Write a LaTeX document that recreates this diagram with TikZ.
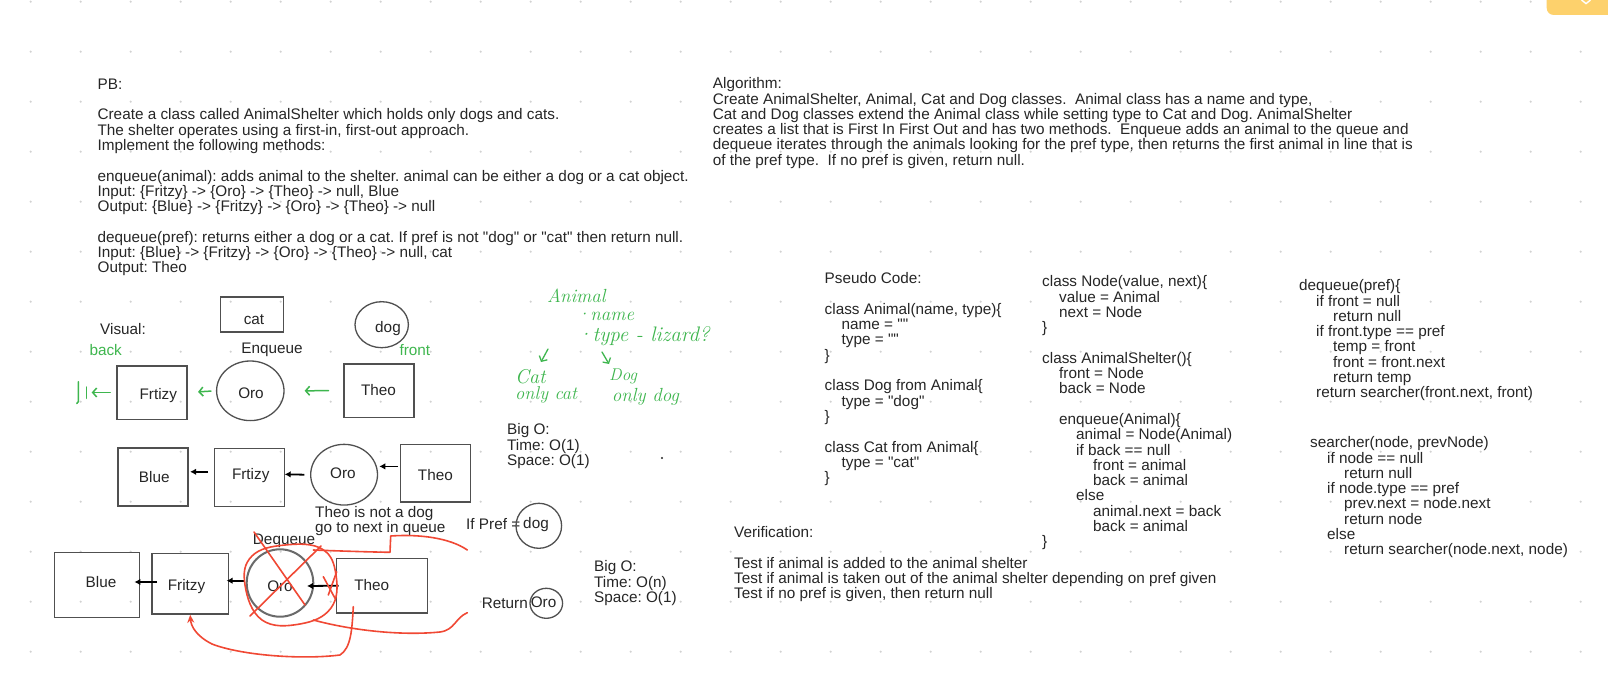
\documentclass[tikz,border=0pt]{standalone}
\usepackage{fontspec}
\newfontfamily\af{Liberation Sans}[Ligatures=TeXOff]
\usetikzlibrary{shapes.geometric,arrows.meta}
\definecolor{ink}{HTML}{262626}
\definecolor{edge}{HTML}{505050}
\definecolor{grn}{RGB}{62,182,78}
\definecolor{rd}{RGB}{240,72,52}
\definecolor{griddot}{HTML}{D2D2D2}
\definecolor{tabcol}{HTML}{FDD16C}
\newcommand\myind[1]{\hspace*{#1pt}}
\newcommand\txtfont{\af\fontsize{15.3}{15.3}\selectfont}
\tikzset{
  blk/.style={anchor=north west, inner sep=0pt, align=left, text=ink, font=\txtfont},
  lbl/.style={inner sep=0pt, text=ink, font=\txtfont},
  glbl/.style={inner sep=0pt, text=grn, font=\txtfont},
  box/.style={draw=edge, line width=1.6pt, rectangle, inner sep=0pt},
  oval/.style={draw=edge, line width=1.3pt, ellipse, inner sep=0pt},
  garrow/.style={draw=grn, line width=1.5pt, line cap=round, -{Straight Barb[length=4pt,width=9pt]}},
  karrow/.style={draw=black, line width=1.8pt, -{Latex[length=6pt,width=6.5pt]}},
  redpen/.style={draw=rd, line width=1.6pt, line cap=round, line join=round},
  hand/.style={text=grn, inner sep=0pt, font=\itshape\fontsize{19}{20}\selectfont},
}
\begin{document}
\frenchspacing
\begin{tikzpicture}[x=1pt,y=-1pt]
\useasboundingbox (0,0) rectangle (1608,700);
\fill[white] (0,0) rectangle (1608,700);
\foreach \i in {0,...,31} \foreach \j in {0,...,13} \fill[griddot] (30.7+50*\i,1.7+50*\j) circle (1.2pt);
% top-right tab
\fill[tabcol, rounded corners=7pt] (1546.7,-20) rectangle (1640,15);
\draw[white, line width=1.4pt] (1581.5,0) -- (1586,3.6) -- (1590.5,0);

% ---------- text blocks ----------
\node[blk] (pb) at (97.4,78.5) {PB:\\[15.3pt]
Create a class called AnimalShelter which holds only dogs and cats.\\
The shelter operates using a first-in, first-out approach.\\
Implement the following methods:\\[15.3pt]
enqueue(animal): adds animal to the shelter. animal can be either a dog or a cat object.\\
Input: \{Fritzy\} -> \{Oro\} -> \{Theo\} -> null, Blue\\
Output: \{Blue\} -> \{Fritzy\} -> \{Oro\} -> \{Theo\} -> null\\[15.3pt]
dequeue(pref): returns either a dog or a cat. If pref is not "dog" or "cat" then return null.\\
Input: \{Blue\} -> \{Fritzy\} -> \{Oro\} -> \{Theo\} -> null, cat\\
Output: Theo};

\node[blk] (algo) at (712.7,77.5) {Algorithm:\\
Create AnimalShelter, Animal, Cat and Dog classes.\ \ Animal class has a name and type,\\
Cat and Dog classes extend the Animal class while setting type to Cat and Dog. AnimalShelter\\
creates a list that is First In First Out and has two methods.\ \ Enqueue adds an animal to the queue and\\
dequeue iterates through the animals looking for the pref type, then returns the first animal in line that is\\
of the pref type.\ \ If no pref is given, return null.};

\node[blk] (pseudo) at (824.5,272.5) {Pseudo Code:\\[15.3pt]
class Animal(name, type)\{\\
\myind{17}name = ""\\
\myind{17}type = ""\\
\}\\[15.3pt]
class Dog from Animal\{\\
\myind{17}type = "dog"\\
\}\\[15.3pt]
class Cat from Animal\{\\
\myind{17}type = "cat"\\
\}};

\node[blk] (nodecls) at (1042,275.5) {class Node(value, next)\{\\
\myind{17}value = Animal\\
\myind{17}next = Node\\
\}\\[15.3pt]
class AnimalShelter()\{\\
\myind{17}front = Node\\
\myind{17}back = Node\\[15.3pt]
\myind{17}enqueue(Animal)\{\\
\myind{34}animal = Node(Animal)\\
\myind{34}if back == null\\
\myind{51}front = animal\\
\myind{51}back = animal\\
\myind{34}else\\
\myind{51}animal.next = back\\
\myind{51}back = animal\\
\}};

\node[blk] (deq) at (1299,279.5) {dequeue(pref)\{\\
\myind{17}if front = null\\
\myind{34}return null\\
\myind{17}if front.type == pref\\
\myind{34}temp = front\\
\myind{34}front = front.next\\
\myind{34}return temp\\
\myind{17}return searcher(front.next, front)};

\node[blk] (search) at (1310,436.5) {searcher(node, prevNode)\\
\myind{17}if node == null\\
\myind{34}return null\\
\myind{17}if node.type == pref\\
\myind{34}prev.next = node.next\\
\myind{34}return node\\
\myind{17}else\\
\myind{34}return searcher(node.next, node)};

\node[blk] (verif) at (734,526.5) {Verification:\\[15.3pt]
Test if animal is added to the animal shelter\\
Test if animal is taken out of the animal shelter depending on pref given\\
Test if no pref is given, then return null};

\node[blk] (bigo1) at (507,423.5) {Big O:\\Time: O(1)\\Space: O(1)};
\node[blk] (bigo2) at (594,560.5) {Big O:\\Time: O(n)\\Space: O(1)};
\node[blk] (note) at (315,506) {Theo is not a dog\\go to next in queue};
\fill[ink] (662,458) circle (1.1pt);

% ---------- labels ----------
\node[lbl, anchor=base west] (visual) at (100,334.4) {Visual:};
\node[glbl, anchor=base west] (backlbl) at (89.3,355.4) {back};
\node[glbl, anchor=base west] (frontlbl) at (399.3,355.4) {front};
\node[lbl, anchor=base] (enq) at (272,353.1) {Enqueue};
\node[lbl, anchor=base] (deqlbl) at (284,544) {Dequeue};
\node[lbl, anchor=base west] (ifpref) at (466,529.7) {If Pref =};
\node[lbl, anchor=base west] (retlbl) at (481.7,608) {Return};

% ---------- row 1 ----------
\node[box, minimum width=63pt, minimum height=35pt] (cat) at (252,314.8) {};
\node[lbl] (catt) at (254,319.5) {cat};
\node[oval, minimum width=53.4pt, minimum height=46pt] (dog) at (381.7,324.7) {};
\node[lbl] (dogt) at (388,328.5) {dog};
\node[box, minimum width=70pt, minimum height=53.6pt] (frtizy1) at (151.7,392.5) {};
\node[lbl] (frtizy1t) at (158.3,395.7) {Frtizy};
\node[oval, minimum width=67.4pt, minimum height=59.6pt] (oro1) at (250.3,390.8) {};
\node[lbl] (oro1t) at (251,393) {Oro};
\node[box, minimum width=70pt, minimum height=53.3pt] (theo1) at (379,390.7) {};
\node[lbl] (theo1t) at (378.5,390.5) {Theo};
\coordinate (null1) at (91.7,392.5);
\draw[garrow, shorten <=14.7pt, shorten >=20pt] (theo1.west) -- (oro1.east);
\draw[garrow, shorten <=5pt, shorten >=10.6pt] (oro1.west) -- (frtizy1.east);
\draw[garrow, shorten <=5.7pt] (frtizy1.west) -- (null1);
\draw[grn, line width=1.5pt, line cap=round] (78.3,381.7) -- (78.3,401.7) -- (76.8,403.5);
\draw[grn, line width=1.5pt, line cap=round] (86.7,387) -- (86.7,398.3);

% ---------- row 2 ----------
\node[box, minimum width=70pt, minimum height=58pt] (blue2) at (153,477) {};
\node[lbl] (blue2t) at (154.3,477) {Blue};
\node[box, minimum width=70pt, minimum height=58pt] (frtizy2) at (249.5,477.5) {};
\node[lbl] (frtizy2t) at (250.7,476) {Frtizy};
\node[oval, minimum width=66.8pt, minimum height=60.7pt] (oro2) at (344.1,474.7) {};
\node[lbl] (oro2t) at (342.9,473.6) {Oro};
\node[box, minimum width=70pt, minimum height=57.7pt] (theo2) at (435.5,473.2) {};
\node[lbl] (theo2t) at (435.4,474.6) {Theo};
\draw[karrow] ([xshift=-1.7pt,yshift=6.8pt]theo2.west) -- ([xshift=1.1pt,yshift=8.3pt]oro2.east);
\draw[karrow] ([xshift=-5.7pt]oro2.west) -- ([xshift=-0.6pt,yshift=3.2pt]frtizy2.east);
\draw[karrow] ([xshift=-5.7pt,yshift=5.7pt]frtizy2.west) -- ([xshift=1.3pt,yshift=5.2pt]blue2.east);

% ---------- dog / return ----------
\node[oval, minimum width=45.6pt, minimum height=45pt] (dog2) at (538.8,525.8) {};
\node[lbl] (dog2t) at (536,525) {dog};
\node[oval, minimum width=32.6pt, minimum height=30pt] (oror) at (546.3,603.3) {};
\node[lbl] (orort) at (543.5,602.7) {Oro};

% ---------- row 3 ----------
\node[box, minimum width=85pt, minimum height=64.7pt] (blue3) at (96.9,585) {};
\node[lbl] (blue3t) at (101,582) {Blue};
\node[box, minimum width=76.7pt, minimum height=60.5pt] (fritzy3) at (190.2,583.8) {};
\node[lbl] (fritzy3t) at (186.5,587) {Fritzy};
\node[oval, draw=edge!85, line width=2pt, minimum width=66.6pt, minimum height=67.4pt] (oro3) at (280,583) {};
\node[lbl] (oro3t) at (280,586.5) {Oro};
\node[box, minimum width=91pt, minimum height=54.7pt] (theo3) at (382,585.7) {};
\node[lbl] (theo3t) at (371.7,585) {Theo};
\draw[karrow] ([xshift=2.8pt]theo3.west) -- ([xshift=-7.3pt,yshift=-3pt]oro3.east);
\draw[karrow] ([xshift=-0.3pt,yshift=2.3pt]oro3.west) -- ([xshift=-2.8pt,yshift=3.1pt]fritzy3.east);
\draw[karrow] ([xshift=6.1pt,yshift=1.8pt]fritzy3.west) -- ([xshift=-5.8pt,yshift=3pt]blue3.east);

% ---------- red pen ----------
\draw[redpen] (254,532) -- (305,605);
\draw[redpen] (250,616) -- (321,546);
\draw[redpen] plot[smooth cycle, tension=0.7] coordinates {(245,585) (252,556) (285,545) (322,549) (336,575) (331,608) (300,624) (262,620)};
\draw[redpen] (313.3,550) .. controls (340,551) and (370,552) .. (390,552.3) -- (390.7,536) .. controls (420,534) and (450,538) .. (467.3,550);
\draw[redpen] (313.3,620) .. controls (350,630) and (400,636) .. (440,632) .. controls (455,630) and (455,618) .. (467.3,612.7);
\draw[redpen] (323.3,576.7) -- (335,598.3);
\draw[redpen] (336.7,571.7) -- (328.3,595);
\draw[redpen, -{Stealth[length=8pt,width=7pt]}] (353.3,606.7) .. controls (352,630) and (351,648) .. (340,655) .. controls (300,660) and (240,655) .. (212,644) .. controls (196,636) and (191,626) .. (fritzy3.south);

% ---------- green handwriting ----------
\node[hand, anchor=west] (hanimal) at (547,296) {Animal};
\node[hand, anchor=west] (hname) at (576,316) {·name};
\node[hand, anchor=west] (htype) at (576.7,336.5) {\fontsize{21}{22}\selectfont ·type - lizard?};
\node[hand, anchor=west] (hcat) at (515,376.7) {\fontsize{20}{21}\selectfont Cat};
\node[hand, anchor=west] (hcatonly) at (515,395) {\fontsize{18.5}{19}\selectfont only cat};
\node[hand, anchor=west] (hdog) at (609,376) {\fontsize{17}{18}\selectfont Dog};
\node[hand, anchor=west] (hdogonly) at (611.7,396.7) {only dog};
\draw[garrow, line width=1.3pt] (548,349) -- (541,362);
\draw[garrow, line width=1.3pt] (602,352) -- (609,364);
\end{tikzpicture}
\end{document}
